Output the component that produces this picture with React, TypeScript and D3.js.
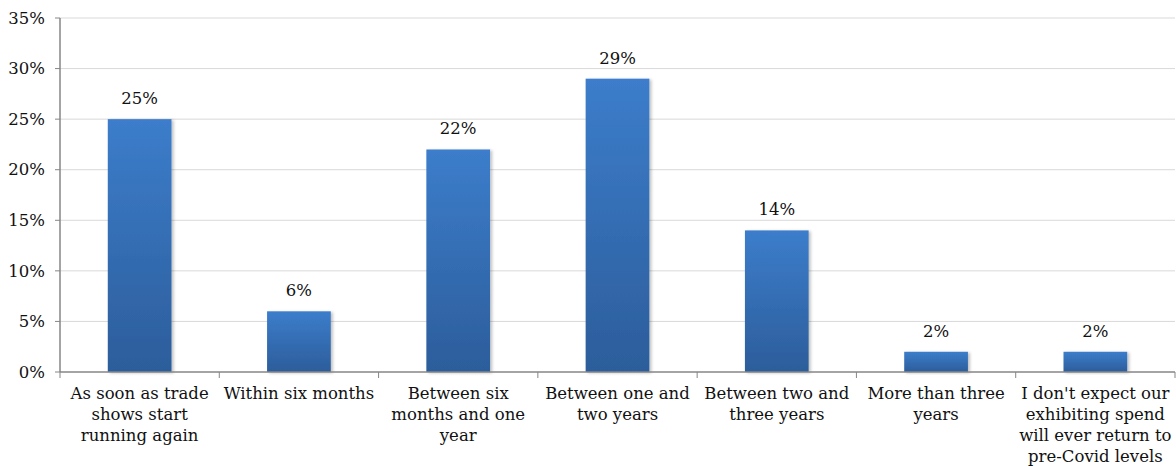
import React from "react";
import * as d3 from "d3";

const categories: string[][] = [
  ["As soon as trade", "shows start", "running again"],
  ["Within six months"],
  ["Between six", "months and one", "year"],
  ["Between one and", "two years"],
  ["Between two and", "three years"],
  ["More than three", "years"],
  ["I don't expect our", "exhibiting spend", "will ever return to", "pre-Covid levels"],
];
const values: number[] = [25, 6, 22, 29, 14, 2, 2];
const yTicks: number[] = [0, 5, 10, 15, 20, 25, 30, 35];

const W = 1176;
const H = 466;
const FONT = "'DejaVu Serif', serif";
const FS = 16.5;

export default function App() {
  const x = d3
    .scaleBand<number>()
    .domain(values.map((_, i) => i))
    .range([60, 1175])
    .paddingInner(0.6)
    .paddingOuter(0.3);
  const band = d3.scaleBand<number>().domain(values.map((_, i) => i)).range([60, 1175]);
  const y = d3.scaleLinear().domain([0, 35]).range([372, 18]);

  return (
    <svg width={W} height={H} style={{ position: "absolute", left: 0, top: 0, background: "#fff" }}>
      <defs>
        <linearGradient id="barFill" x1="0" y1="0" x2="0" y2="1">
          <stop offset="0%" stopColor="#3c7dcb" />
          <stop offset="100%" stopColor="#2c5d9b" />
        </linearGradient>
        <filter id="barShadow" x="-20%" y="-10%" width="140%" height="120%">
          <feDropShadow dx="2" dy="1" stdDeviation="1.5" floodColor="#000" floodOpacity="0.25" />
        </filter>
      </defs>
      {yTicks.map((t) => (
        <g key={t}>
          {t > 0 && (
            <line x1={60} x2={1175} y1={y(t)} y2={y(t)} stroke="#d9d9d9" strokeWidth={1} />
          )}
          <line x1={55} x2={60} y1={y(t)} y2={y(t)} stroke="#868686" strokeWidth={1} />
          <text
            x={45}
            y={y(t)}
            dy="0.35em"
            textAnchor="end"
            fontFamily={FONT}
            fontSize={FS}
            fill="#111"
          >
            {t}%
          </text>
        </g>
      ))}
      {values.map((v, i) => (
        <g key={i}>
          <rect
            x={x(i)}
            y={y(v)}
            width={x.bandwidth()}
            height={y(0) - y(v)}
            fill="url(#barFill)"
            filter="url(#barShadow)"
          />
          <text
            x={(x(i) as number) + x.bandwidth() / 2}
            y={y(v) - 15}
            textAnchor="middle"
            fontFamily={FONT}
            fontSize={FS}
            fill="#111"
          >
            {v}%
          </text>
        </g>
      ))}
      <line x1={60} x2={60} y1={18} y2={372} stroke="#868686" strokeWidth={1.5} />
      <line x1={60} x2={1175} y1={372} y2={372} stroke="#868686" strokeWidth={1.5} />
      {d3.range(values.length + 1).map((i) => {
        const xx = i < values.length ? (band(i) as number) : 1175;
        return <line key={i} x1={xx} x2={xx} y1={372} y2={378} stroke="#868686" strokeWidth={1} />;
      })}
      {categories.map((lines, i) => (
        <text
          key={i}
          x={(band(i) as number) + band.bandwidth() / 2}
          textAnchor="middle"
          fontFamily={FONT}
          fontSize={FS}
          fill="#111"
        >
          {lines.map((ln, j) => (
            <tspan key={j} x={(band(i) as number) + band.bandwidth() / 2} y={399 + j * 21}>
              {ln}
            </tspan>
          ))}
        </text>
      ))}
    </svg>
  );
}
